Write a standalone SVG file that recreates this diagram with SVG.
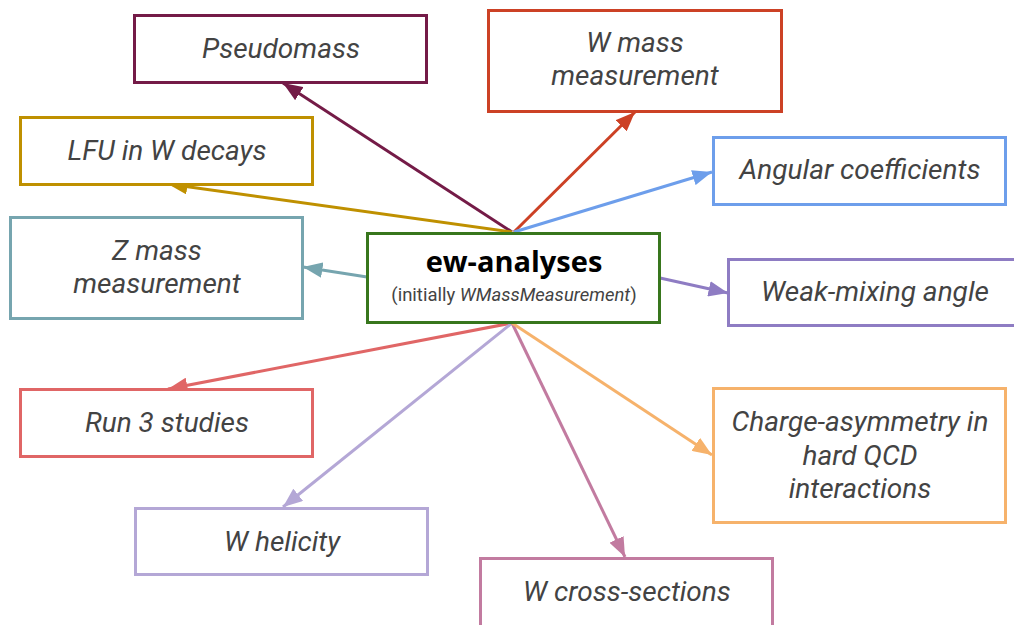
<svg xmlns="http://www.w3.org/2000/svg" width="1014" height="625" viewBox="0 0 1014 625">
  <style>
    .box { fill: #ffffff; stroke-width: 3; }
    .lbl { font-family: Roboto, "Liberation Sans", sans-serif; font-style: italic; font-size: 28px; fill: #434343; text-anchor: middle; }
    .edge { fill: none; stroke-width: 3; }
    .title { font-family: "Open Sans", "Liberation Sans", sans-serif; font-weight: bold; font-size: 29px; fill: #000000; text-anchor: middle; }
    .sub { font-family: Roboto, "Liberation Sans", sans-serif; font-size: 18.5px; fill: #434343; text-anchor: middle; }
  </style>
  <defs>
    <marker id="a-pseudo" viewBox="0 0 10 8" refX="10" refY="4" markerWidth="6.5" markerHeight="5.2" orient="auto"><path d="M0,0 L10,4 L0,8 z" fill="#741b47"/></marker>
    <marker id="a-wmass" viewBox="0 0 10 8" refX="10" refY="4" markerWidth="6.5" markerHeight="5.2" orient="auto"><path d="M0,0 L10,4 L0,8 z" fill="#cc4125"/></marker>
    <marker id="a-lfu" viewBox="0 0 10 8" refX="10" refY="4" markerWidth="6.5" markerHeight="5.2" orient="auto"><path d="M0,0 L10,4 L0,8 z" fill="#bf9000"/></marker>
    <marker id="a-ang" viewBox="0 0 10 8" refX="10" refY="4" markerWidth="6.5" markerHeight="5.2" orient="auto"><path d="M0,0 L10,4 L0,8 z" fill="#6d9eeb"/></marker>
    <marker id="a-z" viewBox="0 0 10 8" refX="10" refY="4" markerWidth="6.5" markerHeight="5.2" orient="auto"><path d="M0,0 L10,4 L0,8 z" fill="#76a5af"/></marker>
    <marker id="a-weak" viewBox="0 0 10 8" refX="10" refY="4" markerWidth="6.5" markerHeight="5.2" orient="auto"><path d="M0,0 L10,4 L0,8 z" fill="#8e7cc3"/></marker>
    <marker id="a-run3" viewBox="0 0 10 8" refX="10" refY="4" markerWidth="6.5" markerHeight="5.2" orient="auto"><path d="M0,0 L10,4 L0,8 z" fill="#e06666"/></marker>
    <marker id="a-hel" viewBox="0 0 10 8" refX="10" refY="4" markerWidth="6.5" markerHeight="5.2" orient="auto"><path d="M0,0 L10,4 L0,8 z" fill="#b4a7d6"/></marker>
    <marker id="a-xsec" viewBox="0 0 10 8" refX="10" refY="4" markerWidth="6.5" markerHeight="5.2" orient="auto"><path d="M0,0 L10,4 L0,8 z" fill="#c27ba0"/></marker>
    <marker id="a-charge" viewBox="0 0 10 8" refX="10" refY="4" markerWidth="6.5" markerHeight="5.2" orient="auto"><path d="M0,0 L10,4 L0,8 z" fill="#f6b26b"/></marker>
  </defs>

  <rect width="1014" height="625" fill="#ffffff"/>

  <!-- connectors from the central node -->
  <g id="connectors">
    <line class="edge" stroke="#741b47" x1="512" y1="232" x2="283" y2="83" marker-end="url(#a-pseudo)"/>
    <line class="edge" stroke="#cc4125" x1="514" y1="232" x2="635" y2="112" marker-end="url(#a-wmass)"/>
    <line class="edge" stroke="#bf9000" x1="512" y1="232" x2="168" y2="184" marker-end="url(#a-lfu)"/>
    <line class="edge" stroke="#6d9eeb" x1="514" y1="232" x2="712" y2="172" marker-end="url(#a-ang)"/>
    <line class="edge" stroke="#76a5af" x1="367" y1="277" x2="303" y2="267" marker-end="url(#a-z)"/>
    <line class="edge" stroke="#8e7cc3" x1="660" y1="278" x2="728" y2="293" marker-end="url(#a-weak)"/>
    <line class="edge" stroke="#e06666" x1="512" y1="323" x2="168" y2="389" marker-end="url(#a-run3)"/>
    <line class="edge" stroke="#b4a7d6" x1="512" y1="323" x2="283" y2="507" marker-end="url(#a-hel)"/>
    <line class="edge" stroke="#c27ba0" x1="512" y1="323" x2="625" y2="557" marker-end="url(#a-xsec)"/>
    <line class="edge" stroke="#f6b26b" x1="512" y1="323" x2="712" y2="455" marker-end="url(#a-charge)"/>
  </g>

  <g id="ew-analyses">
    <rect class="box" stroke="#38761d" x="367.5" y="233.5" width="292" height="89"/>
    <text class="title" x="514" y="272">ew-analyses</text>
    <text class="sub" x="514" y="301">(initially <tspan font-style="italic">WMassMeasurement</tspan>)</text>
  </g>

  <g id="pseudomass">
    <rect class="box" stroke="#741b47" x="134.5" y="15.5" width="292" height="67"/>
    <text class="lbl" x="281" y="58">Pseudomass</text>
  </g>

  <g id="w-mass">
    <rect class="box" stroke="#cc4125" x="488.5" y="10.5" width="293" height="101"/>
    <text class="lbl" x="635" y="52">W mass</text>
    <text class="lbl" x="635" y="85">measurement</text>
  </g>

  <g id="lfu">
    <rect class="box" stroke="#bf9000" x="20.5" y="117.5" width="292" height="67"/>
    <text class="lbl" x="167" y="160">LFU in W decays</text>
  </g>

  <g id="angular">
    <rect class="box" stroke="#6d9eeb" x="713.5" y="137.5" width="292" height="67"/>
    <text class="lbl" x="860" y="179">Angular coefficients</text>
  </g>

  <g id="z-mass">
    <rect class="box" stroke="#76a5af" x="10.5" y="217.5" width="292" height="101"/>
    <text class="lbl" x="157" y="260">Z mass</text>
    <text class="lbl" x="157" y="293">measurement</text>
  </g>

  <g id="weak-mixing">
    <rect class="box" stroke="#8e7cc3" x="728.5" y="259.5" width="292" height="66"/>
    <text class="lbl" x="875" y="301">Weak-mixing angle</text>
  </g>

  <g id="run3">
    <rect class="box" stroke="#e06666" x="20.5" y="389.5" width="292" height="67"/>
    <text class="lbl" x="167" y="432">Run 3 studies</text>
  </g>

  <g id="charge-asymmetry">
    <rect class="box" stroke="#f6b26b" x="713.5" y="388.5" width="292" height="134"/>
    <text class="lbl" x="860" y="431">Charge-asymmetry in</text>
    <text class="lbl" x="860" y="465">hard QCD</text>
    <text class="lbl" x="860" y="498">interactions</text>
  </g>

  <g id="w-helicity">
    <rect class="box" stroke="#b4a7d6" x="135.5" y="508.5" width="292" height="66"/>
    <text class="lbl" x="282" y="551">W helicity</text>
  </g>

  <g id="w-cross-sections">
    <rect class="box" stroke="#c27ba0" x="480.5" y="558.5" width="292" height="80"/>
    <text class="lbl" x="627" y="601">W cross-sections</text>
  </g>
</svg>
